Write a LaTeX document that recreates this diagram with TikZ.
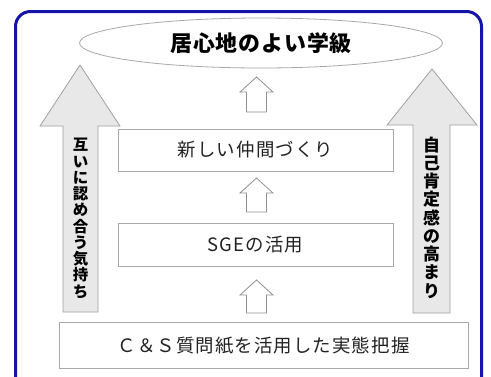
\documentclass[tikz,border=0pt]{standalone}
\usepackage{fontspec}
\usetikzlibrary{shapes.geometric}
\newfontfamily\jp{Noto Sans CJK JP}
\definecolor{frameblue}{HTML}{1414A8}
\definecolor{boxline}{HTML}{A8A8A8}
\definecolor{arrowfill}{HTML}{E8E8E8}
\definecolor{arrowline}{HTML}{A0A0A0}
\definecolor{smallline}{HTML}{909090}
\definecolor{txt}{HTML}{222222}
\tikzset{
  stagebox/.style={draw=boxline, line width=0.9bp, fill=white, inner sep=0pt, text=txt,
    font=\jp\fontsize{18.5}{21}\selectfont\addfontfeature{LetterSpace=6}},
  bigarrow/.style={draw=arrowline, line width=0.8bp, fill=arrowfill},
  smallarrow/.style={draw=smallline, line width=0.8bp, fill=white},
  vlabel/.style={align=center, inner sep=0pt, text=black},
}
\begin{document}
\begin{tikzpicture}[x=1bp,y=-1bp]
\useasboundingbox (0,0) rectangle (491,376);
% outer frame
\draw[frameblue, line width=3bp, rounded corners=15bp] (15.5,11.5) rectangle (481.5,395);
% goal ellipse
\node[draw=boxline, line width=0.8bp, fill=white, ellipse, minimum width=363bp, minimum height=50bp, inner sep=0pt] (goal) at (261,43) {};
\node[font=\jp\bfseries\fontsize{22}{25}\selectfont\addfontfeature{LetterSpace=4}, text=black] (goaltext) at (261,43) {居心地のよい学級};
% big side arrows
\draw[bigarrow] (80,65) -- (120,126) -- (98,126) -- (98,312) -- (63,312) -- (63,126) -- (40,126) -- cycle;
\draw[bigarrow] (432,69) -- (477,125) -- (450,125) -- (450,313) -- (413,313) -- (413,125) -- (387,125) -- cycle;
\node[vlabel, font=\jp\bfseries\fontsize{15.5}{16.3}\selectfont] (leftlabel) at (80.5,218.5)
  {互\\い\\に\\認\\め\\合\\う\\気\\持\\ち};
\node[vlabel, font=\jp\bfseries\fontsize{17}{18.3}\selectfont] (rightlabel) at (431.5,217.5)
  {自\\己\\肯\\定\\感\\の\\高\\ま\\り};
% stage boxes
\node[stagebox, minimum width=275bp, minimum height=42bp] (b1) at (255.5,150) {新しい仲間づくり};
\node[stagebox, minimum width=275bp, minimum height=43bp] (b2) at (255.5,244.5) {SGEの活用};
\node[stagebox, minimum width=409bp, minimum height=46bp] (b3) at (263.5,345.5) {Ｃ＆Ｓ質問紙を活用した実態把握};
% small hollow arrows
\foreach \t/\b in {77/112, 178/212, 280/313}{
  \draw[smallarrow] (256.5,\t) -- (273,\t+15) -- (266.5,\t+15) -- (266.5,\b) -- (246.5,\b) -- (246.5,\t+15) -- (240,\t+15) -- cycle;
}
\end{tikzpicture}
\end{document}
